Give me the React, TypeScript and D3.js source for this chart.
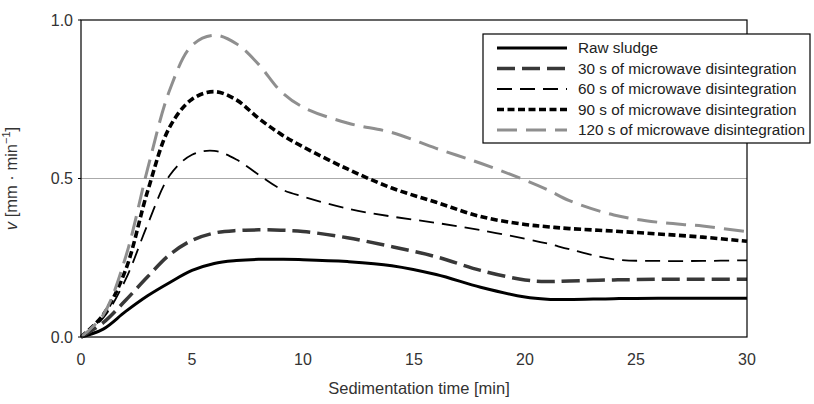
import React from 'react';
import * as d3 from 'd3';

// sedimentation time [min]
const time = [0, 1, 2, 3, 4, 5, 6, 7, 8, 9, 10, 12, 14, 16, 18, 20, 21, 22, 24, 26, 28, 30];

// settling velocity [mm/min] per series
const rawSludge = [0, 0.025, 0.08, 0.13, 0.172, 0.21, 0.232, 0.241, 0.245, 0.245, 0.244, 0.238, 0.225, 0.197, 0.157, 0.126, 0.119, 0.118, 0.121, 0.122, 0.122, 0.122];
const mw30 = [0, 0.045, 0.115, 0.19, 0.26, 0.305, 0.328, 0.336, 0.338, 0.337, 0.333, 0.313, 0.285, 0.253, 0.21, 0.18, 0.175, 0.177, 0.18, 0.182, 0.182, 0.182];
const mw60 = [0, 0.06, 0.18, 0.355, 0.51, 0.575, 0.587, 0.56, 0.512, 0.467, 0.443, 0.405, 0.38, 0.36, 0.337, 0.31, 0.295, 0.277, 0.245, 0.24, 0.24, 0.242];
const mw90 = [0, 0.07, 0.21, 0.46, 0.663, 0.75, 0.774, 0.748, 0.69, 0.64, 0.6, 0.53, 0.47, 0.425, 0.38, 0.355, 0.348, 0.342, 0.334, 0.325, 0.315, 0.302];
const mw120 = [0, 0.07, 0.25, 0.53, 0.78, 0.92, 0.952, 0.925, 0.86, 0.775, 0.725, 0.675, 0.645, 0.595, 0.548, 0.495, 0.465, 0.43, 0.385, 0.362, 0.35, 0.332];

const seriesNames = [
  'Raw sludge',
  '30 s of microwave disintegration',
  '60 s of microwave disintegration',
  '90 s of microwave disintegration',
  '120 s of microwave disintegration',
];

const xTicks = [0, 5, 10, 15, 20, 25, 30];
const yTicks = [0, 0.5, 1];

const styles = [
  { color: '#000', width: 3, dash: null },
  { color: '#383838', width: 3.5, dash: '18 7' },
  { color: '#000', width: 1.8, dash: '15 8' },
  { color: '#000', width: 3.6, dash: '7 3.5' },
  { color: '#8f8f8f', width: 3, dash: '20 9' },
];

const W = 814;
const H = 404;
const margin = { top: 20, right: 67, bottom: 67, left: 81 };
const font = '"Liberation Sans", Arial, sans-serif';

export default function App() {
  const innerW = W - margin.left - margin.right;
  const innerH = H - margin.top - margin.bottom;

  const x = d3.scaleLinear().domain([0, 30]).range([0, innerW]);
  const y = d3.scaleLinear().domain([0, 1]).range([innerH, 0]);

  const series = [rawSludge, mw30, mw60, mw90, mw120];
  const line = d3
    .line<number>()
    .x((_, i) => x(time[i]))
    .y((d) => y(d))
    .curve(d3.curveCatmullRom.alpha(0.5));

  const legend = { x: 483, y: 34, w: 327, h: 109, row: 20.5 };

  return (
    <div style={{ position: 'absolute', left: 0, top: 0 }}>
      <svg width={W} height={H} style={{ display: 'block', fontFamily: font }}>
        <rect width={W} height={H} fill="#fff" />
        <g transform={`translate(${margin.left},${margin.top})`}>
          {/* gridline */}
          <line x1={0} x2={innerW} y1={y(0.5)} y2={y(0.5)} stroke="#aaa" strokeWidth={1} />
          {series.map((s, i) => (
            <path
              key={i}
              d={line(s) || ''}
              fill="none"
              stroke={styles[i].color}
              strokeWidth={styles[i].width}
              strokeDasharray={styles[i].dash || undefined}
            />
          ))}
          <rect x={0} y={0} width={innerW} height={innerH} fill="none" stroke="#000" strokeWidth={1.2} />
          {yTicks.map((t) => (
            <g key={t} transform={`translate(0,${y(t)})`}>
              <line x1={-3} x2={0} stroke="#000" />
              <text x={-8} dy="0.35em" textAnchor="end" fontSize={16} fill="#333">
                {d3.format('.1f')(t)}
              </text>
            </g>
          ))}
          {xTicks.map((t) => (
            <text key={t} x={x(t)} y={innerH + 28} textAnchor="middle" fontSize={16} fill="#333">
              {t}
            </text>
          ))}
          <text x={innerW / 2 + 5} y={innerH + 57} textAnchor="middle" fontSize={16.5} fill="#333">
            Sedimentation time [min]
          </text>
          <text
            transform={`translate(${-64},${innerH / 2}) rotate(-90)`}
            textAnchor="middle"
            fontSize={16.5}
            fill="#333"
          >
            <tspan fontStyle="italic">v</tspan> [mm · min
            <tspan fontSize={11} dy={-7}>−1</tspan>
            <tspan dy={7}>]</tspan>
          </text>
        </g>
        {/* legend */}
        <g transform={`translate(${legend.x},${legend.y})`}>
          <rect width={legend.w} height={legend.h} fill="#fff" stroke="#000" strokeWidth={1.2} />
          {seriesNames.map((name, i) => {
            const cy = 14 + i * legend.row;
            return (
              <g key={name} transform={`translate(0,${cy})`}>
                <line
                  x1={14}
                  x2={84}
                  stroke={styles[i].color}
                  strokeWidth={styles[i].width}
                  strokeDasharray={styles[i].dash || undefined}
                />
                <text x={95} dy="0.35em" fontSize={15.3} fill="#222">
                  {name}
                </text>
              </g>
            );
          })}
        </g>
      </svg>
    </div>
  );
}
